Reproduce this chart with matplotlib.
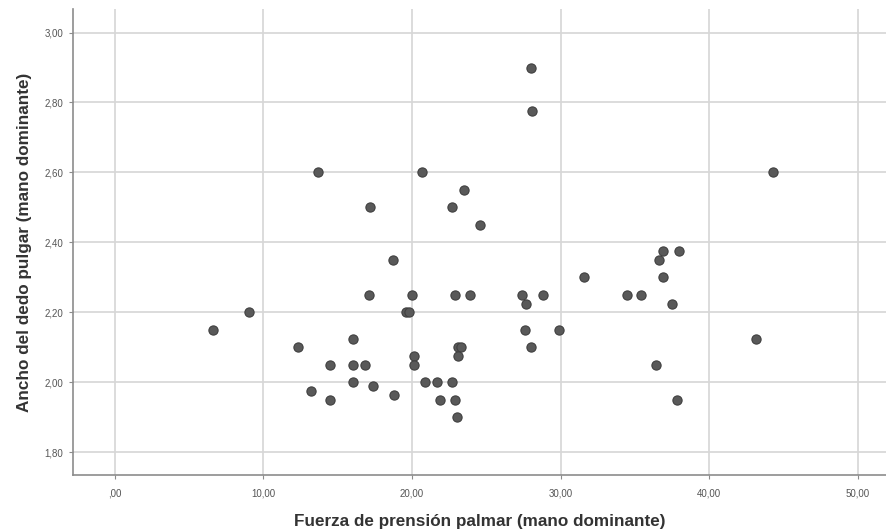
import matplotlib
matplotlib.use('Agg')
import matplotlib.pyplot as plt
from matplotlib.ticker import FuncFormatter

plt.rcParams['font.family'] = ['Liberation Sans', 'DejaVu Sans']

# Fuerza de prension palmar (x) vs ancho del dedo pulgar (y)
fuerza = [28.0, 28.1, 13.7, 20.7, 23.5, 17.2, 22.7, 24.55, 18.7, 44.3,
          36.9, 38.0, 36.65, 6.6, 9.0, 12.35, 17.1, 20.0, 22.9, 23.9,
          27.4, 28.8, 27.7, 19.6, 19.8, 27.6, 29.9, 16.0, 23.1, 23.3,
          28.0, 20.1, 23.1, 14.5, 16.0, 16.8, 20.1, 16.0, 20.85, 21.7,
          22.7, 13.2, 17.4, 14.5, 18.8, 21.9, 22.9, 23.0, 31.6, 36.9,
          34.5, 35.4, 37.5, 43.15, 36.4, 37.8]
ancho = [2.90, 2.775, 2.60, 2.60, 2.55, 2.50, 2.50, 2.45, 2.35, 2.60,
         2.375, 2.375, 2.35, 2.15, 2.20, 2.10, 2.25, 2.25, 2.25, 2.25,
         2.25, 2.25, 2.225, 2.20, 2.20, 2.15, 2.15, 2.125, 2.10, 2.10,
         2.10, 2.075, 2.075, 2.05, 2.05, 2.05, 2.05, 2.00, 2.00, 2.00,
         2.00, 1.975, 1.99, 1.95, 1.965, 1.95, 1.95, 1.90, 2.30, 2.30,
         2.25, 2.25, 2.225, 2.125, 2.05, 1.95]

x_ticks = [0, 10, 20, 30, 40, 50]
y_ticks = [1.8, 2.0, 2.2, 2.4, 2.6, 2.8, 3.0]

fig = plt.figure(figsize=(8.86, 5.30), dpi=100)
ax = fig.add_axes([0.0824, 0.1038, 0.9176, 0.879])

ax.scatter(fuerza, ancho, s=44, color='#595959', edgecolors='#404040',
           linewidths=0.8, zorder=3)

ax.set_xlim(-2.82, 51.9)
ax.set_ylim(1.735, 3.067)
ax.set_xticks(x_ticks)
ax.set_yticks(y_ticks)


def coma(v, pos):
    s = '%.2f' % v
    if s.startswith('0'):
        s = s[1:]
    return s.replace('.', ',')


ax.xaxis.set_major_formatter(FuncFormatter(coma))
ax.yaxis.set_major_formatter(FuncFormatter(coma))

ax.grid(True, color='#d6d6d6', linewidth=1.2, zorder=0)
ax.set_axisbelow(True)
for side in ['top', 'right']:
    ax.spines[side].set_visible(False)
for side in ['left', 'bottom']:
    ax.spines[side].set_color('#8c8c8c')
    ax.spines[side].set_linewidth(1.2)

ax.tick_params(axis='both', length=3, color='#8c8c8c', labelsize=7,
               labelcolor='#555555')
ax.tick_params(axis='x', pad=7)
ax.tick_params(axis='y', pad=4)

ax.set_xlabel('Fuerza de prensión palmar (mano dominante)', fontsize=12.3,
              fontweight='bold', color='#333333', labelpad=11)
ax.set_ylabel('Ancho del dedo pulgar (mano dominante)', fontsize=12.3,
              fontweight='bold', color='#333333', labelpad=9)

fig.savefig('out.png', dpi=100, facecolor='white')
